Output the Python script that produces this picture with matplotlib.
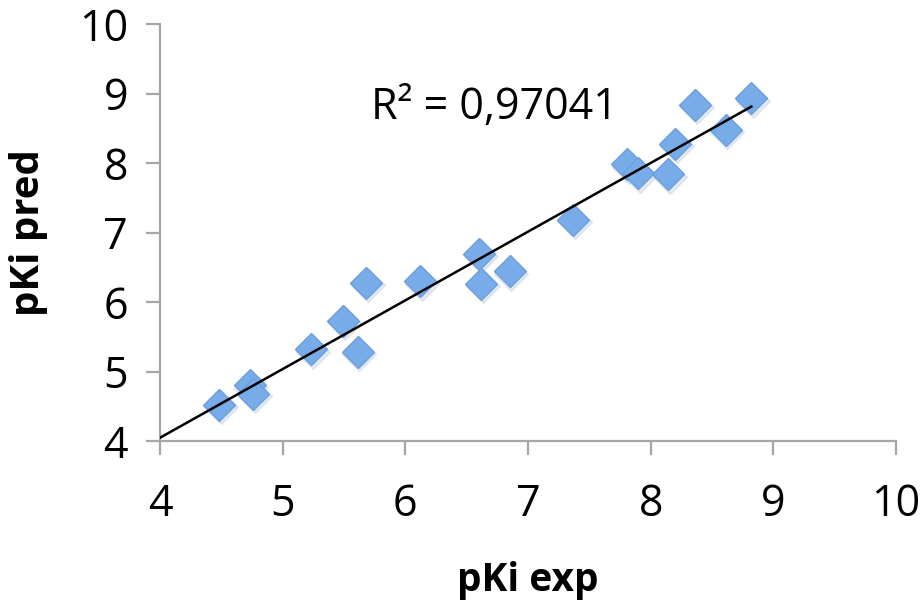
import matplotlib.pyplot as plt
import numpy as np

plt.rcParams['font.family'] = ['Open Sans', 'DejaVu Sans']

pki_exp = [4.48, 4.73, 4.76, 5.23, 5.49, 5.61, 5.68, 6.12, 6.60, 6.62, 6.85,
           7.37, 7.81, 7.90, 8.14, 8.20, 8.36, 8.61, 8.82]
pki_pred = [4.52, 4.80, 4.68, 5.32, 5.73, 5.28, 6.28, 6.30, 6.69, 6.26, 6.44,
            7.18, 7.98, 7.85, 7.84, 8.28, 8.84, 8.48, 8.93]
r2_label = "R² = 0,97041"

x = np.array(pki_exp)
y = np.array(pki_pred)
slope, intercept = np.polyfit(x, y, 1)

fig = plt.figure(figsize=(9.21, 6.0), dpi=100)
ax = fig.add_axes([0.1737, 0.265, 0.7993, 0.695])

# soft shadow behind the diamonds
ax.plot(x + 0.015, y - 0.035, linestyle="none", marker="D", markersize=17,
        color="#c4cfdc", alpha=0.45, zorder=2)
ax.plot(x, y, linestyle="none", marker="D", markersize=16,
        markerfacecolor="#78ace8", markeredgecolor="#6a9edf",
        markeredgewidth=1.0, zorder=3)

line_x = np.array([4.0, x.max()])
ax.plot(line_x, slope * line_x + intercept, color="black", linewidth=1.8, zorder=4)

ax.text(6.73, 8.79, r2_label, fontsize=31, ha="center", va="center")

ax.set_xlim(4, 10)
ax.set_ylim(4, 10)
ax.set_xticks(range(4, 11))
ax.set_yticks(range(4, 11))

for side in ["top", "right"]:
    ax.spines[side].set_visible(False)
for side in ["left", "bottom"]:
    ax.spines[side].set_color("#a6a6a6")
    ax.spines[side].set_linewidth(1.6)

ax.tick_params(axis="both", direction="out", length=10, width=1.6,
               color="#a6a6a6", labelsize=31)
ax.tick_params(axis="y", pad=13)
ax.tick_params(axis="x", pad=20)

ax.set_xlabel("pKi exp", fontsize=28, fontweight="bold", labelpad=24)
ax.set_ylabel("pKi pred", fontsize=29, fontweight="bold", labelpad=22)

fig.savefig("out.png", dpi=100)
